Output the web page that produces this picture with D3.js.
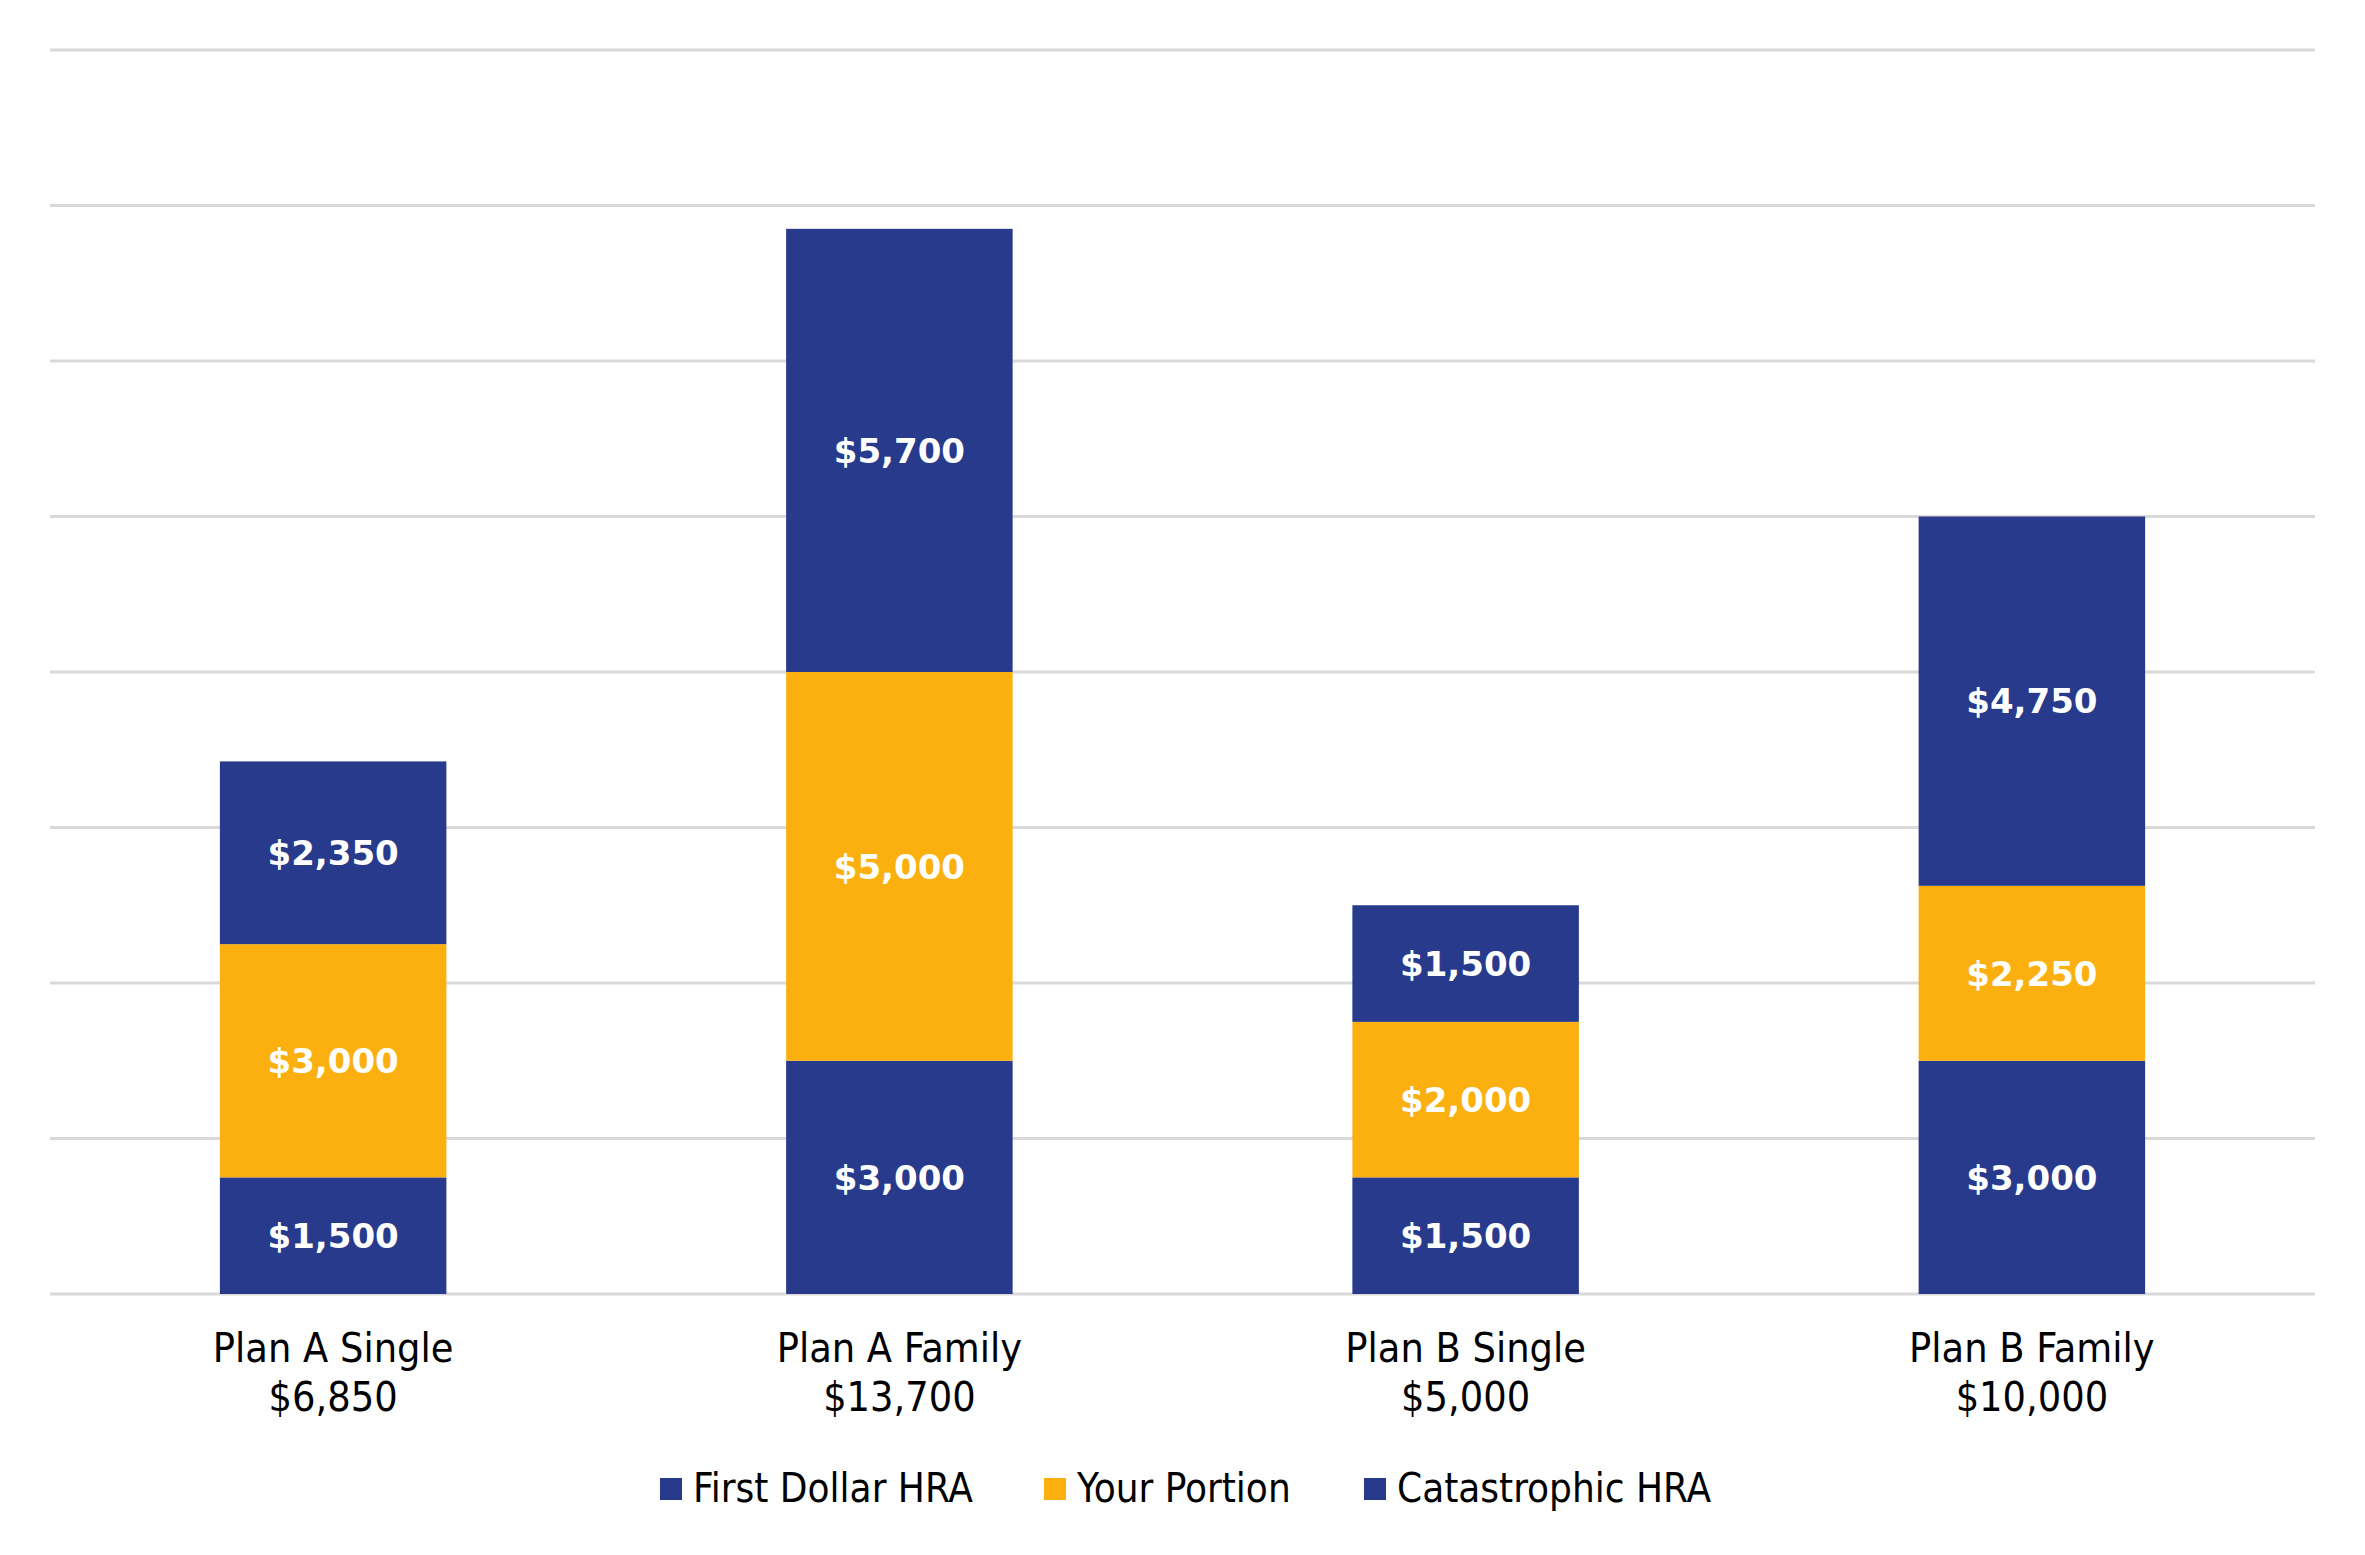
<!DOCTYPE html>
<html lang='en'>
<head>
	<meta charset='UTF-8'>
	<title>HRA Plans</title>
	<style>
		body { margin: 0; background: #fff; }
		.cat, .leg { font-family: "DejaVu Sans Condensed", "DejaVu Sans", sans-serif; font-stretch: condensed; }
	</style>
</head>
<body>

<svg></svg>

<script src='https://d3js.org/d3.v7.min.js'></script>
<script>
const categories = ['Plan A Single', 'Plan A Family', 'Plan B Single', 'Plan B Family']
const totals = ['$6,850', '$13,700', '$5,000', '$10,000']
const firstDollar = [1500, 3000, 1500, 3000]
const yourPortion = [3000, 5000, 2000, 2250]
const catastrophic = [2350, 5700, 1500, 4750]
const seriesNames = ['First Dollar HRA', 'Your Portion', 'Catastrophic HRA']
const yTicks = [0, 2000, 4000, 6000, 8000, 10000, 12000, 14000, 16000]

const colors = ['#283a8c', '#fbb010', '#283a8c']

const width = 2365
const height = 1555
const plotLeft = 50, plotRight = 2315, plotTop = 50, plotBottom = 1294

const svg = d3.select('svg')
	.attr('width', width)
	.attr('height', height)

const x = d3.scaleBand()
	.domain(categories)
	.range([plotLeft, plotRight])
	.paddingInner(0.6)
	.paddingOuter(0.3)

const y = d3.scaleLinear()
	.domain([0, 16000])
	.range([plotBottom, plotTop])

// gridlines
svg.append('g')
	.selectAll('line')
	.data(yTicks)
	.enter().append('line')
	.attr('x1', plotLeft)
	.attr('x2', plotRight)
	.attr('y1', d => y(d))
	.attr('y2', d => y(d))
	.attr('stroke', '#d9d9d9')
	.attr('stroke-width', 3)

const rows = categories.map((c, i) => ({
	cat: c,
	s0: firstDollar[i],
	s1: yourPortion[i],
	s2: catastrophic[i]
}))

const stack = d3.stack().keys(['s0', 's1', 's2'])(rows)

const layer = svg.selectAll('g.layer')
	.data(stack)
	.enter().append('g')
	.attr('class', 'layer')
	.attr('fill', (d, i) => colors[i])

layer.selectAll('rect')
	.data(d => d)
	.enter().append('rect')
	.attr('x', d => x(d.data.cat))
	.attr('width', x.bandwidth())
	.attr('y', d => y(d[1]))
	.attr('height', d => y(d[0]) - y(d[1]))

// value labels
layer.selectAll('text')
	.data(d => d)
	.enter().append('text')
	.attr('x', d => x(d.data.cat) + x.bandwidth() / 2)
	.attr('y', d => (y(d[0]) + y(d[1])) / 2)
	.attr('dy', '0.36em')
	.attr('text-anchor', 'middle')
	.attr('fill', '#fff')
	.attr('font-family', 'DejaVu Sans, sans-serif')
	.attr('font-weight', 'bold')
	.attr('font-size', 34)
	.text(d => '$' + d3.format(',')(d[1] - d[0]))

// category labels
const cat = svg.append('g')
	.selectAll('text')
	.data(categories)
	.enter().append('text')
	.attr('class', 'cat')
	.attr('text-anchor', 'middle')
	.attr('font-size', 41)
	.attr('fill', '#000')
	.attr('x', d => x(d) + x.bandwidth() / 2)
	.attr('y', 1362)

cat.append('tspan').text(d => d)
cat.append('tspan')
	.attr('x', d => x(d) + x.bandwidth() / 2)
	.attr('dy', 49)
	.text((d, i) => totals[i])

// legend
const legX = [660, 1044, 1364]
const leg = svg.append('g')
	.selectAll('g')
	.data(seriesNames)
	.enter().append('g')
	.attr('transform', (d, i) => `translate(${legX[i]},1478)`)

leg.append('rect')
	.attr('width', 22)
	.attr('height', 22)
	.attr('fill', (d, i) => colors[i])

leg.append('text')
	.attr('class', 'leg')
	.attr('x', 33)
	.attr('y', 24)
	.attr('font-size', 40)
	.attr('fill', '#000')
	.text(d => d)
</script>
</body>
</html>
